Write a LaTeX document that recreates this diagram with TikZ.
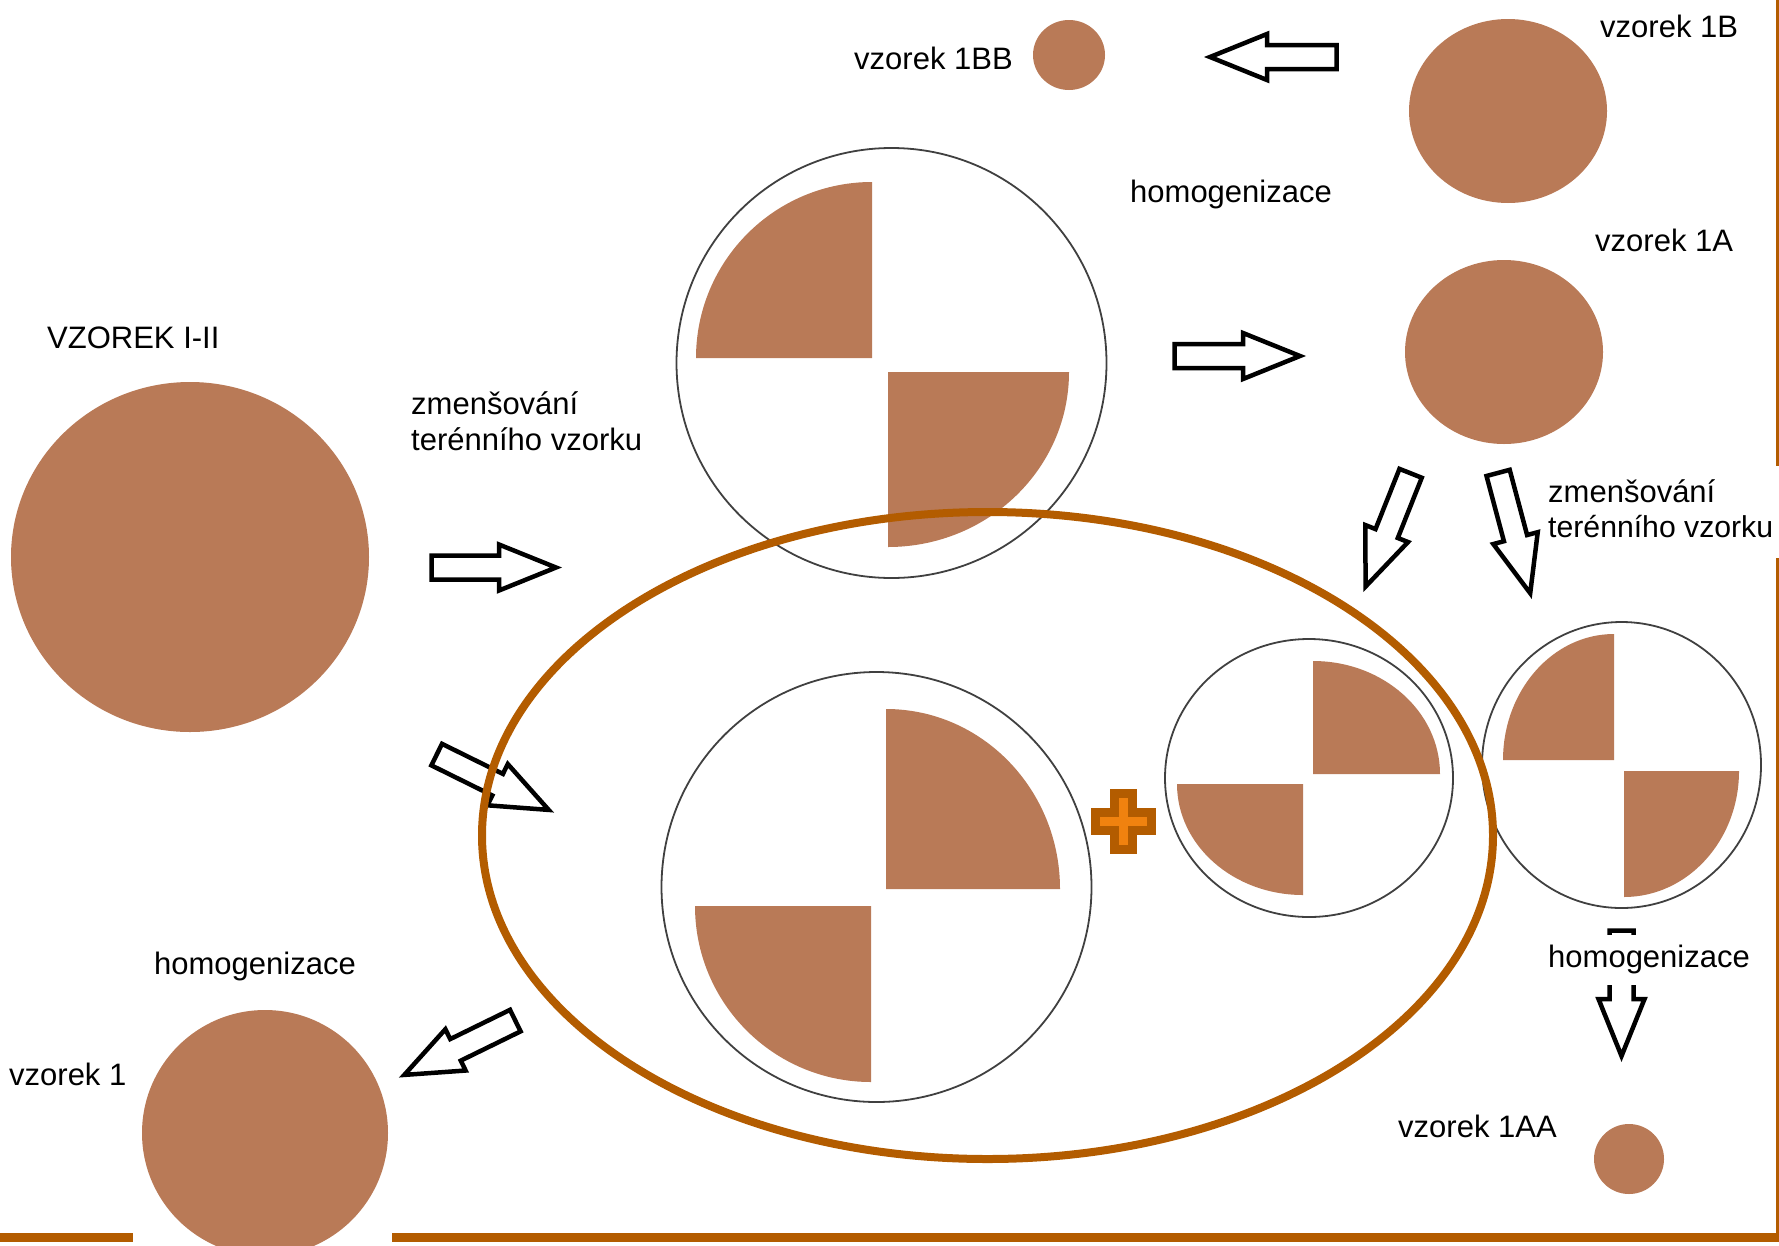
\documentclass[tikz,border=0pt]{standalone}
\usepackage{fontspec}
\setmainfont{Liberation Sans}
\usetikzlibrary{calc,shapes.geometric}
\definecolor{soil}{RGB}{185,122,87}
\definecolor{rim}{RGB}{64,64,64}
\definecolor{ring}{RGB}{179,92,0}
\definecolor{plusfill}{RGB}{240,130,15}
\tikzset{
  lbl/.style={anchor=base west, inner sep=0pt, font=\fontsize{31}{36}\selectfont},
  sample/.style={ellipse, fill=soil, draw=none, inner sep=0pt},
  dish/.style={ellipse, draw=rim, line width=1.8pt, inner sep=0pt},
  quad/.style={fill=soil, draw=none},
  blockarrow/.style={draw=black, fill=white, line width=4.5pt, line join=miter},
  frame/.style={draw=ring, line width=9pt},
  sideframe/.style={draw=ring, line width=3pt},
  group/.style={ellipse, draw=ring, line width=8pt, inner sep=0pt},
  plusmark/.style={draw=ring, fill=plusfill, line width=9pt, line join=miter}
}
\newcommand\blockarrowdraw[2]{%
  \coordinate (#1n) at ($(#2)!57pt!(#1)$);
  \draw[blockarrow] ($(#1)!12pt!90:(#2)$) -- ($(#1n)!12pt!90:(#2)$) -- ($(#1n)!23pt!90:(#2)$)
    -- (#2) -- ($(#1n)!23pt!-90:(#2)$) -- ($(#1n)!12pt!-90:(#2)$) -- ($(#1)!12pt!-90:(#2)$) -- cycle;}
\begin{document}
\begin{tikzpicture}[x=1pt,y=-1pt]
\useasboundingbox (0,0) rectangle (1779,1245);
\clip (0,0) rectangle (1779,1245);
% frame lines
\coordinate (fb1) at (0,1237.5);
\coordinate (fb2) at (133,1237.5);
\coordinate (fb3) at (392,1237.5);
\coordinate (fb4) at (1779,1237.5);
\coordinate (fr1) at (1777.5,0);
\coordinate (fr2) at (1777.5,466);
\coordinate (fr3) at (1777.5,558);
\coordinate (fr4) at (1777.5,1237);
\draw[frame] (fb1) -- (fb2);
\draw[frame] (fb3) -- (fb4);
\draw[sideframe] (fr1) -- (fr2);
\draw[sideframe] (fr3) -- (fr4);

% solid samples
\node[sample, minimum width=358, minimum height=350] (big) at (190,557) {};
\node[sample, minimum width=198, minimum height=184] (s1b) at (1508,111) {};
\node[sample, minimum width=72, minimum height=70] (s1bb) at (1069,55) {};
\node[sample, minimum width=198, minimum height=184] (s1a) at (1504,352) {};
\node[sample, minimum width=246, minimum height=246] (s1) at (265,1133) {};
\node[sample, minimum width=70, minimum height=70] (s1aa) at (1629,1159) {};

% dishes with quarters
\fill[quad] (872,358) -- ++(-176,0) arc[start angle=180, end angle=270, x radius=176, y radius=176] -- cycle;
\fill[quad] (888,372) -- ++(181,0) arc[start angle=0, end angle=90, x radius=181, y radius=175] -- cycle;
\node[dish, minimum width=430, minimum height=430] (q1) at (891.5,363) {};

\fill[quad] (886,889) -- ++(174,0) arc[start angle=0, end angle=-90, x radius=174, y radius=180] -- cycle;
\fill[quad] (871,906) -- ++(-176,0) arc[start angle=180, end angle=90, x radius=176, y radius=176] -- cycle;
\node[dish, minimum width=430, minimum height=430] (q2) at (876.5,887) {};

\fill[quad] (1313,774) -- ++(127,0) arc[start angle=0, end angle=-90, x radius=127, y radius=113] -- cycle;
\fill[quad] (1303,784) -- ++(-126,0) arc[start angle=180, end angle=90, x radius=126, y radius=111] -- cycle;
\node[dish, minimum width=288, minimum height=278] (q3) at (1309,778) {};

\fill[quad] (1614,760) -- ++(-111,0) arc[start angle=180, end angle=270, x radius=111, y radius=126] -- cycle;
\fill[quad] (1624,771) -- ++(115,0) arc[start angle=0, end angle=90, x radius=115, y radius=126] -- cycle;
\node[dish, minimum width=279, minimum height=286] (q4) at (1621.5,765) {};

% arrows
\coordinate (a1) at (431.5,567.5);  \coordinate (a1h) at (556,567.5);
\coordinate (a2) at (1174.5,356);   \coordinate (a2h) at (1300,356);
\coordinate (a3) at (1336.5,57);    \coordinate (a3h) at (1210,57);
\coordinate (a4) at (436.7,754.6);  \coordinate (a4h) at (548.7,809.9);
\coordinate (a5) at (515.3,1020.6); \coordinate (a5h) at (404.3,1074.9);
\coordinate (a6) at (1410.6,473.3); \coordinate (a6h) at (1365.6,586.5);
\coordinate (a7) at (1498.1,472.9); \coordinate (a7h) at (1530.2,593.2);
\coordinate (a8) at (1621.5,930.5); \coordinate (a8h) at (1621.5,1056);
\blockarrowdraw{a1}{a1h}
\blockarrowdraw{a2}{a2h}
\blockarrowdraw{a3}{a3h}
\blockarrowdraw{a4}{a4h}
\blockarrowdraw{a5}{a5h}
\blockarrowdraw{a6}{a6h}
\blockarrowdraw{a7}{a7h}
\blockarrowdraw{a8}{a8h}

% labels
\node[lbl] (tvz) at (47,348) {VZOREK I-II};
\node[lbl] (tzm1) at (411,414) {zmenšování};
\node[lbl] (tter1) at (411,450) {terénního vzorku};
\node[lbl] (thom1) at (1130,202) {homogenizace};
\node[lbl] (t1bb) at (854,69) {vzorek 1BB};
\node[lbl] (t1b) at (1600,37) {vzorek 1B};
\node[lbl] (t1a) at (1595,251) {vzorek 1A};
\node[lbl] (tzm2) at (1548,502) {zmenšování};
\node[lbl, font=\fontsize{30.2}{36}\selectfont] (tter2) at (1548,537) {terénního vzorku};
\node[lbl, fill=white, text height=32pt, text depth=18pt] (thom2) at (1548,967) {homogenizace};
\node[lbl] (t1aa) at (1398,1137) {vzorek 1AA};
\node[lbl] (thom3) at (154,974) {homogenizace};
\node[lbl] (tv1) at (9,1085) {vzorek 1};

% grouping ellipse
\node[group, minimum width=1011, minimum height=647] (grp) at (987.5,835.5) {};

% plus sign
\begin{scope}[shift={(1123.5,821.5)}]
\draw[plusmark] (-9,-28) -- (9,-28) -- (9,-9) -- (28,-9) -- (28,9) -- (9,9) -- (9,28)
  -- (-9,28) -- (-9,9) -- (-28,9) -- (-28,-9) -- (-9,-9) -- cycle;
\end{scope}
\end{tikzpicture}
\end{document}
